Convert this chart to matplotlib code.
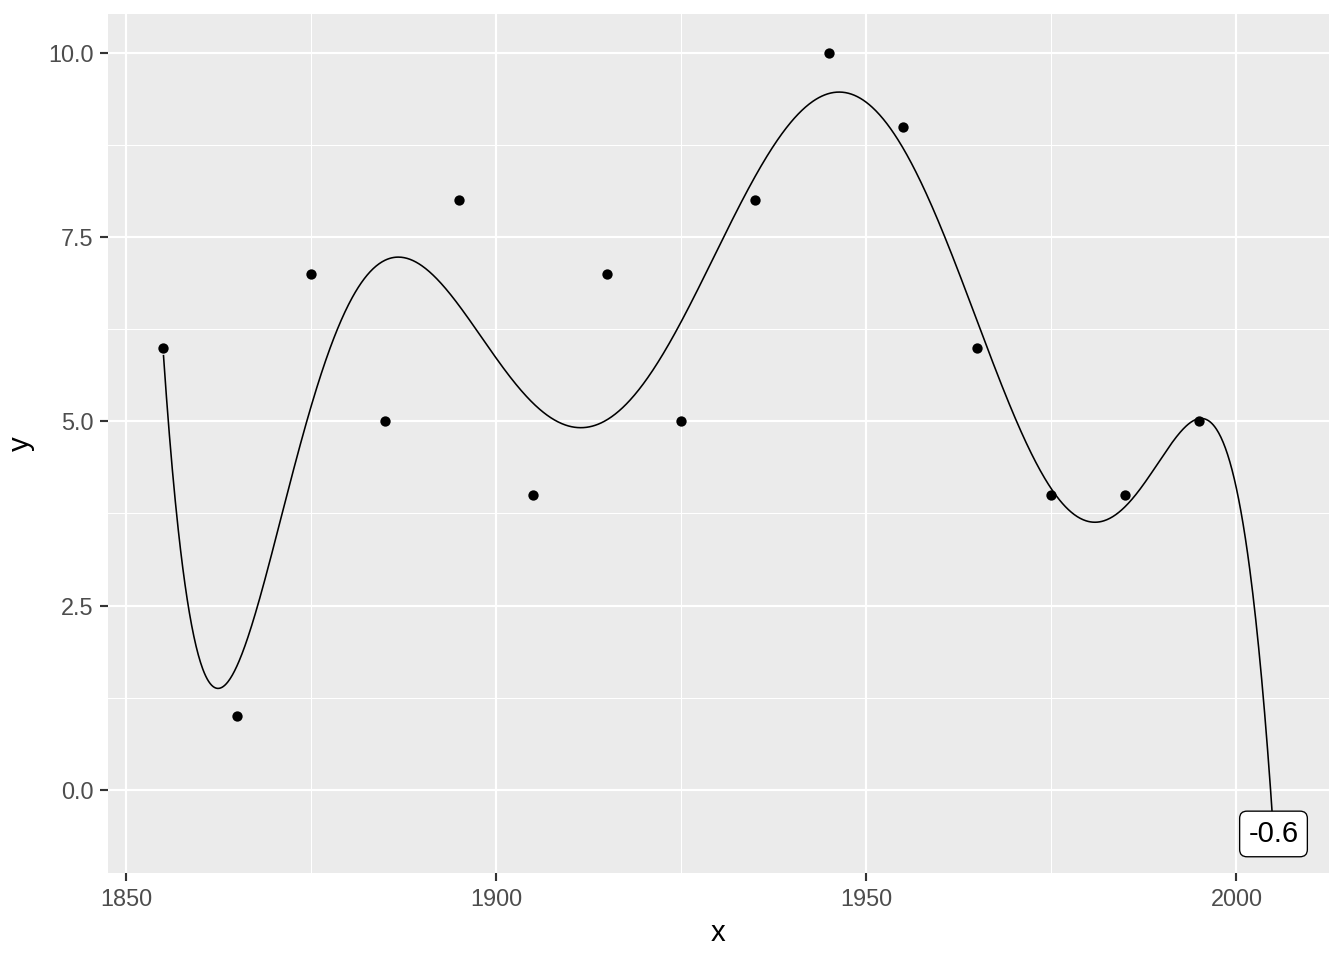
import numpy as np
import matplotlib
matplotlib.use("Agg")
import matplotlib.pyplot as plt

plt.rcParams['font.family'] = ['Liberation Sans', 'DejaVu Sans']

# data
x = np.array([1855, 1865, 1875, 1885, 1895, 1905, 1915, 1925, 1935, 1945,
              1955, 1965, 1975, 1985, 1995])
y = np.array([6, 1, 7, 5, 8, 4, 7, 5, 8, 10, 9, 6, 4, 4, 5])
fit_degree = 7
pred_end = 2005
label_text = "-0.6"
x_ticks = [1850, 1900, 1950, 2000]
y_ticks = [0.0, 2.5, 5.0, 7.5, 10.0]
y_ticklabels = ["0.0", "2.5", "5.0", "7.5", "10.0"]

# polynomial fit (lm(y ~ poly(x, 7))) extended to 2005
xc, xsc = 1930.0, 75.0
coef = np.polyfit((x - xc) / xsc, y, fit_degree)
gx = np.linspace(x.min(), pred_end, 1500)
gy = np.polyval(coef, (gx - xc) / xsc)
end_val = np.polyval(coef, (pred_end - xc) / xsc)

fig = plt.figure(figsize=(7, 5), dpi=192)
ax = fig.add_axes([108/1344, 1 - 873/960, (1329-108)/1344, (873-14)/960])
ax.set_facecolor('#EBEBEB')
for s in ax.spines.values():
    s.set_visible(False)

xmin, xmax = x.min(), pred_end
ymin, ymax = round(end_val, 1), y.max()
ax.set_xlim(xmin - 0.05*(xmax-xmin), xmax + 0.05*(xmax-xmin))
ax.set_ylim(ymin - 0.05*(ymax-ymin), ymax + 0.05*(ymax-ymin))

ax.set_xticks(x_ticks)
ax.set_xticklabels([str(t) for t in x_ticks])
ax.set_yticks(y_ticks)
ax.set_yticklabels(y_ticklabels)
ax.set_xticks([1875, 1925, 1975], minor=True)
ax.set_yticks([1.25, 3.75, 6.25, 8.75], minor=True)
ax.grid(which='major', color='white', linewidth=0.8)
ax.grid(which='minor', color='white', linewidth=0.4)
ax.set_axisbelow(True)
ax.tick_params(which='major', length=3.0, width=0.8, color='#333333',
               labelsize=8.8, labelcolor='#4D4D4D', pad=2.5)
ax.tick_params(which='minor', length=0)

ax.plot(gx, gy, color='black', linewidth=0.6, zorder=3)
ax.scatter(x, y, s=15, color='black', zorder=4, linewidths=0)

ax.text(pred_end, round(end_val, 1), label_text, ha='center', va='center',
        fontsize=11, color='black', zorder=5,
        bbox=dict(boxstyle='round,pad=0.3,rounding_size=0.25', facecolor='white',
                  edgecolor='black', linewidth=0.5))

ax.set_xlabel('x', fontsize=11, color='black', labelpad=3)
ax.set_ylabel('y', fontsize=11, color='black', labelpad=5)

fig.savefig("out.png")
